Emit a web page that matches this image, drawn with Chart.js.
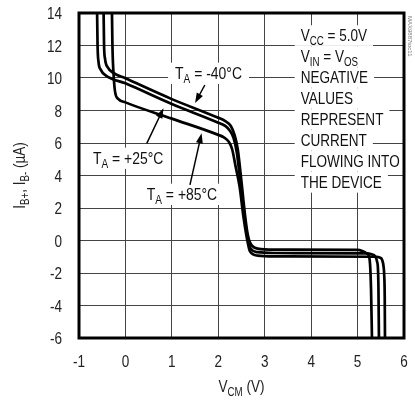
<!DOCTYPE html>
<html>
<head>
<meta charset="utf-8">
<script src="https://cdn.jsdelivr.net/npm/chart.js@4.4.0/dist/chart.umd.min.js"></script>
<style>
  body { margin: 0; background: #fff; }
  canvas { display: block; }
</style>
</head>
<body>
<canvas id="myChart" width="415" height="401"></canvas>
<script>
const FONT = "'Liberation Sans', Arial, sans-serif";
const SQ = 0.82; // horizontal squeeze, the original uses a narrow face

const xTicks = [-1, 0, 1, 2, 3, 4, 5, 6];
const yTicks = [-6, -4, -2, 0, 2, 4, 6, 8, 10, 12, 14];

// TA = -40°C
const vcm40 = [-0.47, -0.46, -0.44, -0.38, -0.25, 0, 1, 2, 2.15, 2.27, 2.35, 2.42, 2.5, 2.57, 2.62, 2.66, 2.72, 2.85, 3.2, 5.0, 5.1, 5.2, 5.25, 5.27, 5.29, 5.31];
const ib40  = [14, 12, 11.2, 10.65, 10.3, 9.98, 8.7, 7.55, 7.35, 7.05, 6.5, 5.6, 3.6, 1.7, 0.6, 0.05, -0.3, -0.5, -0.56, -0.58, -0.65, -0.8, -1.0, -1.5, -3, -6];
// TA = +25°C
const vcm25 = [-0.61, -0.6, -0.58, -0.53, -0.42, 0, 1, 2, 2.15, 2.25, 2.33, 2.4, 2.48, 2.56, 2.61, 2.65, 2.7, 2.85, 3.2, 5.2, 5.3, 5.38, 5.42, 5.44, 5.45, 5.46];
const ib25  = [14, 12, 11.0, 10.5, 10.15, 9.67, 8.4, 7.25, 7.05, 6.75, 6.3, 5.4, 3.5, 1.6, 0.5, -0.1, -0.5, -0.72, -0.77, -0.79, -0.85, -0.98, -1.3, -1.8, -3, -6];
// TA = +85°C
const vcm85 = [-0.29, -0.28, -0.25, -0.22, -0.15, 0, 1, 2, 2.12, 2.22, 2.3, 2.37, 2.46, 2.54, 2.6, 2.64, 2.68, 2.85, 3.2, 5.4, 5.48, 5.53, 5.56, 5.575, 5.585, 5.59];
const ib85  = [14, 12, 10.0, 9.1, 8.7, 8.5, 7.5, 6.5, 6.35, 6.1, 5.6, 4.6, 3.3, 1.5, 0.4, -0.2, -0.65, -0.93, -0.98, -1.0, -1.05, -1.2, -1.6, -2.2, -3.5, -6];

const pts = (xs, ys) => xs.map((v, i) => ({x: v, y: ys[i]}));

function series(label, xs, ys) {
  return {
    label: label,
    data: pts(xs, ys),
    showLine: true,
    borderColor: '#000',
    borderWidth: 2.7,
    pointRadius: 0,
    cubicInterpolationMode: 'monotone',
    fill: false
  };
}

// narrow text helpers
function txt(ctx, t, x, y, size, draw) {
  ctx.font = size + 'px ' + FONT;
  const w = ctx.measureText(t).width * SQ;
  if (draw) {
    ctx.save();
    ctx.translate(x, y);
    ctx.scale(SQ, 1);
    ctx.fillText(t, 0, 0);
    ctx.restore();
  }
  return w;
}

function rich(ctx, parts, x, y, size, draw) {
  let cx = x;
  for (const p of parts) {
    const s = p.sub ? size * 0.72 : size;
    cx += txt(ctx, p.t, cx, p.sub ? y + size * 0.22 : y, s, draw);
  }
  return cx - x;
}

function label(ctx, parts, x, y, size, bg) {
  const w = rich(ctx, parts, x, y, size, false);
  if (bg) {
    ctx.fillStyle = '#fff';
    ctx.fillRect(x - bg, y - size * 0.95, w + bg * 2, size * 1.25);
  }
  ctx.fillStyle = '#111';
  rich(ctx, parts, x, y, size, true);
}

function arrow(ctx, x0, y0, x1, y1) {
  const ang = Math.atan2(y1 - y0, x1 - x0);
  const L = 10, W = 3.5;
  ctx.strokeStyle = '#000';
  ctx.lineWidth = 1.5;
  ctx.beginPath();
  ctx.moveTo(x0, y0);
  ctx.lineTo(x1 - Math.cos(ang) * L * 0.8, y1 - Math.sin(ang) * L * 0.8);
  ctx.stroke();
  ctx.fillStyle = '#000';
  ctx.beginPath();
  ctx.moveTo(x1, y1);
  ctx.lineTo(x1 - Math.cos(ang) * L - Math.sin(ang) * W, y1 - Math.sin(ang) * L + Math.cos(ang) * W);
  ctx.lineTo(x1 - Math.cos(ang) * L + Math.sin(ang) * W, y1 - Math.sin(ang) * L - Math.cos(ang) * W);
  ctx.closePath();
  ctx.fill();
}

const notes = [
  [{t: 'V'}, {t: 'CC', sub: true}, {t: ' = 5.0V'}],
  [{t: 'V'}, {t: 'IN', sub: true}, {t: ' = V'}, {t: 'OS', sub: true}],
  [{t: 'NEGATIVE'}],
  [{t: 'VALUES'}],
  [{t: 'REPRESENT'}],
  [{t: 'CURRENT'}],
  [{t: 'FLOWING INTO'}],
  [{t: 'THE DEVICE'}]
];

const overlay = {
  id: 'overlay',
  afterDatasetsDraw(chart) {
    const {ctx, chartArea: a, scales: {x, y}} = chart;
    const px = v => x.getPixelForValue(v);
    const py = v => y.getPixelForValue(v);
    ctx.save();
    ctx.textBaseline = 'alphabetic';
    ctx.textAlign = 'left';

    // right-hand note block
    notes.forEach((n, i) => {
      label(ctx, n, px(3.775), py(12.28 - i * 1.29), 16.5, 6);
    });

    // temperature labels
    label(ctx, [{t: 'T'}, {t: 'A', sub: true}, {t: ' = -40°C'}], px(1.07), py(9.95), 17, 7);
    label(ctx, [{t: 'T'}, {t: 'A', sub: true}, {t: ' = +25°C'}], px(-0.70), py(4.72), 17, 7);
    label(ctx, [{t: 'T'}, {t: 'A', sub: true}, {t: ' = +85°C'}], px(0.46), py(2.5), 17, 7);

    arrow(ctx, px(1.71), py(9.57), px(1.50), py(8.46));
    arrow(ctx, px(0.46), py(5.98), px(0.82), py(8.14));
    arrow(ctx, px(1.39), py(3.42), px(1.64), py(6.6));

    // frame
    ctx.strokeStyle = '#000';
    ctx.lineWidth = 3;
    ctx.strokeRect(a.left, a.top, a.right - a.left, a.bottom - a.top);

    // tick labels from the scales
    ctx.fillStyle = '#222';
    x.ticks.forEach(t => {
      const s = String(t.value);
      const w = txt(ctx, s, 0, 0, 16.5, false);
      txt(ctx, s, px(t.value) - w / 2, 367, 16.5, true);
    });
    y.ticks.forEach(t => {
      const s = String(t.value);
      const w = txt(ctx, s, 0, 0, 16.5, false);
      txt(ctx, s, 62 - w, py(t.value) + 6, 16.5, true);
    });

    // axis titles
    const xt = [{t: 'V'}, {t: 'CM', sub: true}, {t: ' (V)'}];
    const wx = rich(ctx, xt, 0, 0, 16.5, false);
    rich(ctx, xt, (a.left + a.right) / 2 - wx / 2, 392, 16.5, true);

    const yt = [{t: 'I'}, {t: 'B+', sub: true}, {t: ', I'}, {t: 'B-', sub: true}, {t: ' (µA)'}];
    ctx.translate(25, (a.top + a.bottom) / 2);
    ctx.rotate(-Math.PI / 2);
    const wy = rich(ctx, yt, 0, 0, 16.5, false);
    rich(ctx, yt, -wy / 2, 0, 16.5, true);
    ctx.restore();

    // figure id
    ctx.save();
    ctx.translate(408, 16);
    ctx.rotate(Math.PI / 2);
    ctx.fillStyle = '#777';
    ctx.font = '6px ' + FONT;
    ctx.fillText('MAX9887toc11', 0, 0);
    ctx.restore();
  }
};

Chart.defaults.font.family = FONT;

new Chart(document.getElementById('myChart'), {
  type: 'scatter',
  data: {
    datasets: [
      series('TA = -40°C', vcm40, ib40),
      series('TA = +25°C', vcm25, ib25),
      series('TA = +85°C', vcm85, ib85)
    ]
  },
  options: {
    responsive: false,
    animation: false,
    layout: { padding: { top: 13, right: 11, left: 0, bottom: 0 } },
    plugins: { legend: { display: false }, tooltip: { enabled: false } },
    scales: {
      x: {
        type: 'linear', min: -1, max: 6,
        afterBuildTicks: s => { s.ticks = xTicks.map(v => ({value: v})); },
        grid: { color: '#444', lineWidth: 1, drawTicks: false },
        border: { display: false },
        ticks: { display: false },
        afterFit: s => { s.height = 63; }
      },
      y: {
        type: 'linear', min: -6, max: 14,
        afterBuildTicks: s => { s.ticks = yTicks.map(v => ({value: v})); },
        grid: { color: '#444', lineWidth: 1, drawTicks: false },
        border: { display: false },
        ticks: { display: false },
        afterFit: s => { s.width = 79; }
      }
    }
  },
  plugins: [overlay]
});
</script>
</body>
</html>
